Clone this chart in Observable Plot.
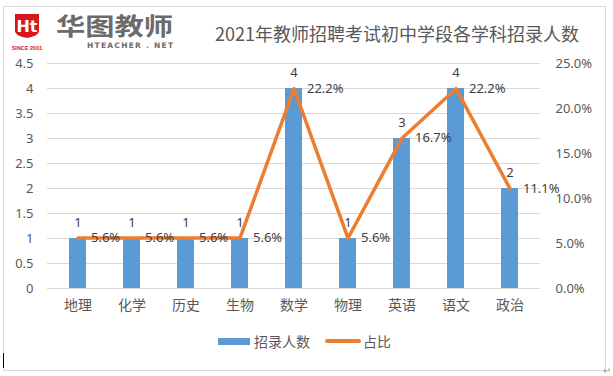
<!DOCTYPE html>
<html><head><meta charset="utf-8">
<script src="https://cdn.jsdelivr.net/npm/d3@7"></script>
<script src="https://cdn.jsdelivr.net/npm/@observablehq/plot@0.6"></script>
<style>
html,body{margin:0;padding:0;background:#fff;}
#page{position:relative;width:613px;height:376px;overflow:hidden;font-family:"Noto Sans CJK SC","Noto Sans",sans-serif;color:#595959;}
#frame{position:absolute;left:3px;top:6px;width:603px;height:365px;border:1px solid #d9d9d9;box-sizing:border-box;}
#chart{position:absolute;left:0;top:0;}
#title{position:absolute;left:215px;top:20px;font-size:18px;color:#595959;white-space:nowrap;}
#legend{position:absolute;top:331px;left:218px;font-size:14px;display:flex;align-items:center;white-space:nowrap;color:#595959;}
.sw{display:inline-block;}
</style></head>
<body><div id="page">
<div id="frame"></div>
<div id="chart"></div>
<svg id="logo" style="position:absolute;left:0;top:0" width="200" height="60">
  <path d="M15,14 H39 V31 Q39,36 27,38 Q15,36 15,31 Z" fill="#d7161e"/>
  <text x="27" y="32" text-anchor="middle" font-family="DejaVu Sans" font-weight="bold" font-size="16" fill="#fff">Ht</text>
  <text x="27" y="50" text-anchor="middle" font-family="Liberation Sans" font-weight="bold" font-size="5.5" fill="#d7161e">SINCE 2001</text>
  <text x="56" y="34.5" font-family="Noto Sans CJK SC" font-weight="bold" font-size="24" fill="#6b6b6b" textLength="117" lengthAdjust="spacingAndGlyphs">华图教师</text>
  <text x="87" y="48" font-family="DejaVu Sans" font-weight="bold" font-size="7.5" fill="#6b6b6b" textLength="86">HTEACHER . NET</text>
</svg>
<div id="title">2021年教师招聘考试初中学段各学科招录人数</div>
<div id="legend">
  <span class="sw" style="width:32px;height:7px;background:#5b9bd5;margin-right:4px"></span><span>招录人数</span>
  <span class="sw" style="width:36px;height:4px;border-radius:2px;background:#ed7d31;margin-left:15px;margin-right:2px"></span><span>占比</span>
</div>
<div style="position:absolute;left:3px;top:353px;width:1px;height:15px;background:#000"></div>
<div style="position:absolute;left:603px;top:362px;font-size:10px;color:#999">↵</div>
</div>
<script>
const subjects = ["地理","化学","历史","生物","数学","物理","英语","语文","政治"];
const counts = [1,1,1,1,4,1,3,4,2];
const shares = [5.6,5.6,5.6,5.6,22.2,5.6,16.7,22.2,11.1];
const leftTicks = [0,0.5,1,1.5,2,2.5,3,3.5,4,4.5];
const rightTicks = [0,5,10,15,20,25];

const yMax = 4.5, pMax = 25;
const toY = p => p / pMax * yMax;
const data = subjects.map((s,i) => ({subject:s, count:counts[i], share:shares[i]}));

const font = "'Noto Sans','Noto Sans CJK SC',sans-serif";
const chart = Plot.plot({
  width: 613, height: 320,
  marginTop: 63, marginBottom: 32, marginLeft: 47, marginRight: 73,
  style: {fontFamily: font, fontSize: "13px", color: "#595959", background: "transparent"},
  x: {domain: subjects, paddingInner: 0.68, paddingOuter: 0.34, label: null},
  y: {domain: [0, yMax], label: null},
  marks: [
    Plot.gridY(leftTicks, {stroke: "#d9d9d9", strokeOpacity: 1, strokeWidth: 1}),
    Plot.axisY(leftTicks, {anchor: "left", tickSize: 0, tickPadding: 14, label: null, fontSize: 13, tickFormat: d => String(d)}),
    Plot.axisY(rightTicks.map(toY), {anchor: "right", tickSize: 0, tickPadding: 15, label: null, fontSize: 13, textAnchor: "start", tickFormat: d => (d / yMax * pMax).toFixed(1) + "%"}),
    Plot.axisX({tickSize: 0, tickPadding: 12, label: null, fontSize: 14}),
    Plot.barY(data, {x: "subject", y: "count", fill: "#5b9bd5"}),
    Plot.line(data, {x: "subject", y: d => toY(d.share), stroke: "#ed7d31", strokeWidth: 3.5, strokeLinejoin: "round"}),
    Plot.text(data, {x: "subject", y: "count", text: d => String(d.count), dy: -16, fill: "#404040", fontSize: 13}),
    Plot.text(data, {x: "subject", y: d => toY(d.share), text: d => d.share.toFixed(1) + "%", dx: 13, textAnchor: "start", fill: "#404040", fontSize: 13})
  ]
});
document.getElementById("chart").appendChild(chart);
</script>
</body></html>
